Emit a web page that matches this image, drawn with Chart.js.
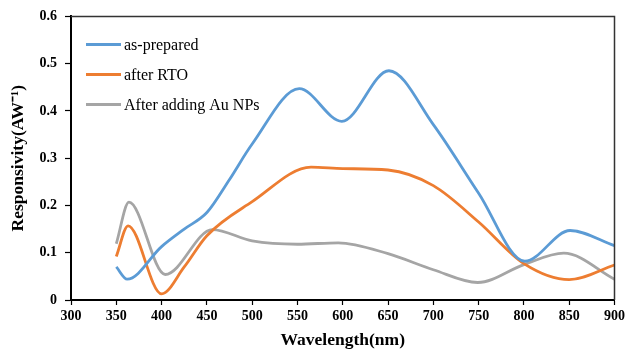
<!DOCTYPE html>
<html>
<head>
<meta charset="utf-8">
<script src="https://cdn.jsdelivr.net/npm/chart.js@4/dist/chart.umd.min.js"></script>
<style>
html,body{margin:0;padding:0;background:#fff;}
#wrap{width:628px;height:356px;position:relative;}
</style>
</head>
<body>
<div id="wrap"><canvas id="c" width="628" height="356"></canvas></div>
<script>
// ---- data ----
const seriesNames = ["as-prepared", "after RTO", "After adding Au NPs"];
const asPreparedX = [350, 362, 400, 425, 450, 475, 500, 552, 599, 651, 700, 750, 801, 851, 900];
const asPreparedY = [0.070, 0.044, 0.113, 0.150, 0.185, 0.255, 0.330, 0.447, 0.378, 0.485, 0.371, 0.226, 0.082, 0.147, 0.115];
const afterRtoX = [350, 363, 400, 425, 450, 500, 565, 600, 650, 700, 750, 800, 850, 900];
const afterRtoY = [0.092, 0.157, 0.013, 0.070, 0.136, 0.208, 0.281, 0.278, 0.275, 0.242, 0.165, 0.077, 0.043, 0.074];
const auNpsX = [350, 364, 404, 456, 500, 550, 595, 650, 700, 749, 800, 844, 900];
const auNpsY = [0.119, 0.207, 0.054, 0.149, 0.125, 0.118, 0.121, 0.098, 0.064, 0.037, 0.075, 0.099, 0.044];
const seriesColors = ["#5B9BD5", "#ED7D31", "#A5A5A5"];
const xTickMin = 300, xTickMax = 900, xTickStep = 50;
const yTickMin = 0, yTickMax = 0.6, yTickStep = 0.1;
const xTitle = "Wavelength(nm)";
const yTitle = "Responsivity(AW\u207B\u00B9)";

const toPts = (xs, ys) => xs.map((x, i) => ({x: x, y: ys[i]}));
const allX = [asPreparedX, afterRtoX, auNpsX];
const allY = [asPreparedY, afterRtoY, auNpsY];

const serif = "'Liberation Serif', 'Times New Roman', serif";

const frameAndLegend = {
  id: 'frameAndLegend',
  afterDraw(chart) {
    const ctx = chart.ctx;
    const a = chart.chartArea;
    ctx.save();
    // top and right border of plot box
    ctx.strokeStyle = '#333';
    ctx.lineWidth = 1.5;
    ctx.beginPath();
    ctx.moveTo(a.left, a.top);
    ctx.lineTo(a.right, a.top);
    ctx.lineTo(a.right, a.bottom);
    ctx.stroke();
    // legend
    ctx.font = "16px " + serif;
    ctx.textBaseline = 'middle';
    ctx.textAlign = 'left';
    chart.data.datasets.forEach((ds, i) => {
      const y = a.top + 28 + i * 30;
      ctx.strokeStyle = ds.borderColor;
      ctx.lineWidth = 3;
      ctx.beginPath();
      ctx.moveTo(a.left + 15, y);
      ctx.lineTo(a.left + 50, y);
      ctx.stroke();
      ctx.fillStyle = '#000';
      ctx.fillText(ds.label, a.left + 53, y + 1);
    });
    ctx.restore();
  }
};

new Chart(document.getElementById('c'), {
  type: 'line',
  data: {
    datasets: seriesNames.map((name, i) => ({
      label: name,
      data: toPts(allX[i], allY[i]),
      borderColor: seriesColors[i],
      backgroundColor: seriesColors[i],
      borderWidth: 2.8,
      pointRadius: 0,
      cubicInterpolationMode: 'monotone',
      fill: false
    }))
  },
  options: {
    responsive: false,
    animation: false,
    layout: {padding: {top: 14.5, right: 12, left: 8, bottom: 0}},
    plugins: {legend: {display: false}, tooltip: {enabled: false}},
    scales: {
      x: {
        type: 'linear',
        min: xTickMin, max: xTickMax,
        ticks: {stepSize: xTickStep, color: '#000', padding: 3, maxRotation: 0,
                font: {family: serif, size: 14, weight: 'bold'}},
        grid: {drawOnChartArea: false, drawTicks: true, tickLength: 5, color: '#000', tickWidth: 1.2},
        border: {display: true, color: '#000', width: 2},
        title: {display: true, text: xTitle, color: '#000', padding: {top: 0, bottom: 5},
                font: {family: serif, size: 17.5, weight: 'bold'}},
        afterFit: s => { s.height = 56; }
      },
      y: {
        min: yTickMin, max: yTickMax,
        ticks: {stepSize: yTickStep, color: '#000', padding: 8,
                callback: v => (Math.round(v * 10) / 10).toString(),
                font: {family: serif, size: 14, weight: 'bold'}},
        grid: {drawOnChartArea: false, drawTicks: true, tickLength: 6, color: '#000', tickWidth: 1.2},
        border: {display: true, color: '#000', width: 2},
        title: {display: true, text: yTitle, color: '#000', padding: {top: 0, bottom: 0},
                font: {family: serif, size: 17.5, weight: 'bold'}},
        afterFit: s => { s.width = 63; }
      }
    }
  },
  plugins: [frameAndLegend]
});
</script>
</body>
</html>
